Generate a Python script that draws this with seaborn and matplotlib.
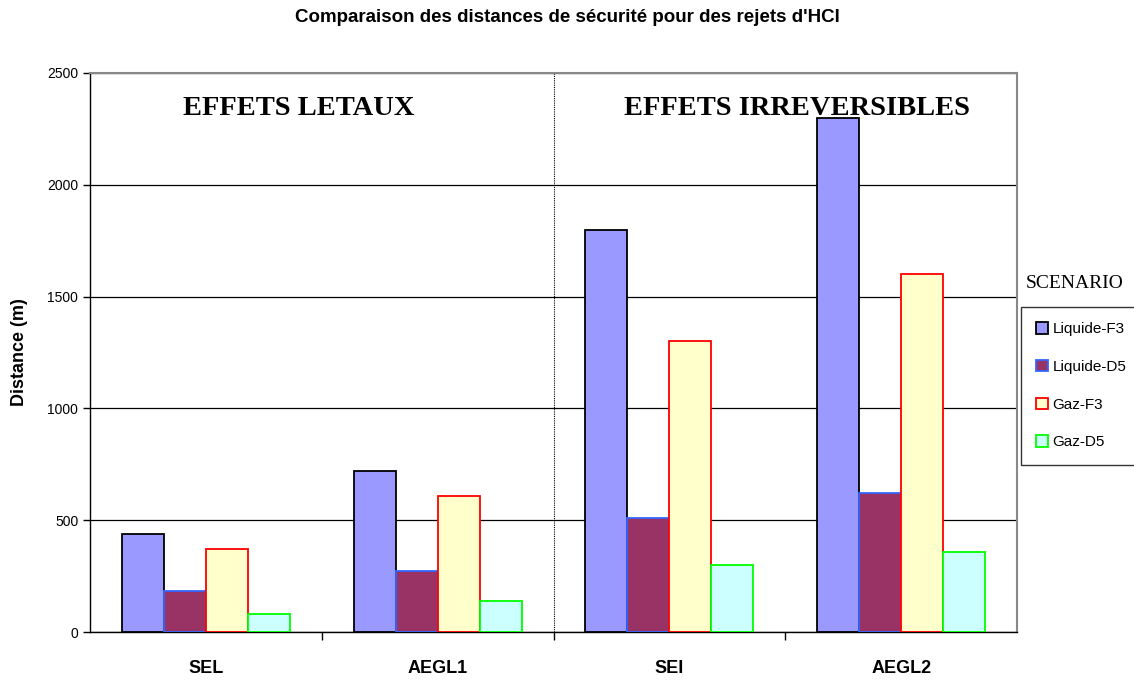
import matplotlib
matplotlib.use("Agg")
import matplotlib.pyplot as plt
import seaborn as sns
import pandas as pd
from matplotlib.patches import Patch

categories = ["SEL", "AEGL1", "SEI", "AEGL2"]
scenarios = ["Liquide-F3", "Liquide-D5", "Gaz-F3", "Gaz-D5"]
liquide_f3 = [440, 720, 1800, 2300]
liquide_d5 = [185, 275, 510, 620]
gaz_f3 = [370, 610, 1300, 1600]
gaz_d5 = [80, 140, 300, 360]
yticks = [0, 500, 1000, 1500, 2000, 2500]

face_colors = ["#9999FF", "#993366", "#FFFFCC", "#CCFFFF"]
edge_colors = ["#000000", "#3366FF", "#FF0000", "#00FF00"]

rows = []
for s, vals in zip(scenarios, [liquide_f3, liquide_d5, gaz_f3, gaz_d5]):
    for c, v in zip(categories, vals):
        rows.append({"cat": c, "scenario": s, "value": v})
df = pd.DataFrame(rows)

sns.set_theme(style="white")
plt.rcParams["font.family"] = ["Liberation Sans", "DejaVu Sans"]
plt.rcParams["text.color"] = "black"
plt.rcParams["axes.labelcolor"] = "black"
plt.rcParams["xtick.color"] = "black"
plt.rcParams["ytick.color"] = "black"

fig = plt.figure(figsize=(11.34, 6.8), dpi=100)
ax = fig.add_axes([90 / 1134, 48 / 680, 927 / 1134, 559 / 680])

sns.barplot(data=df, x="cat", y="value", hue="scenario", order=categories,
            hue_order=scenarios, palette=face_colors, width=0.725, gap=0,
            ax=ax, legend=False, saturation=1)

for cont, ec in zip(ax.containers, edge_colors):
    for p in cont.patches:
        p.set_edgecolor(ec)
        p.set_linewidth(1.3)
        p.set_zorder(3)

ax.set_ylim(0, 2500)
ax.set_xlim(-0.5, 3.5)
ax.set_yticks(yticks)
ax.set_yticklabels([str(t) for t in yticks], fontsize=10)
ax.yaxis.grid(True, color="black", linewidth=0.9)
ax.set_axisbelow(True)

ax.set_xticks([0, 1, 2, 3])
ax.set_xticklabels(categories, fontsize=13, fontweight="bold")
ax.tick_params(axis="x", length=0, pad=20)
ax.set_xticks([0.5, 1.5, 2.5], minor=True)
ax.tick_params(axis="x", which="minor", length=6, width=1, color="black", direction="out", bottom=True)
ax.tick_params(axis="y", length=5, width=1, color="black", direction="out", left=True)

ax.set_xlabel("")
ax.set_ylabel("Distance (m)", fontsize=13, fontweight="bold", labelpad=14)

for side in ["left", "bottom"]:
    ax.spines[side].set_color("black")
    ax.spines[side].set_linewidth(1.0)
for side in ["top", "right"]:
    ax.spines[side].set_color("#888888")
    ax.spines[side].set_linewidth(1.5)

ax.axvline(1.5, color="black", linestyle=(0, (1, 1)), linewidth=0.8, zorder=2)

ax.text(0.4, 2340, "EFFETS LETAUX", fontsize=20.5, fontweight="bold",
        family=["Liberation Serif", "DejaVu Serif"], ha="center", va="center")
ax.text(2.55, 2340, "EFFETS IRREVERSIBLES", fontsize=20.5, fontweight="bold",
        family=["Liberation Serif", "DejaVu Serif"], ha="center", va="center")

fig.text(567 / 1134, 1 - 17 / 680, "Comparaison des distances de sécurité pour des rejets d'HCl",
         fontsize=13.5, fontweight="bold", ha="center", va="center")

fig.text(1075 / 1134, 1 - 283 / 680, "SCENARIO", fontsize=14,
         family=["Liberation Serif", "DejaVu Serif"], ha="center", va="center")

handles = [Patch(facecolor=fc, edgecolor=ec, linewidth=1.3) for fc, ec in zip(face_colors, edge_colors)]
leg = fig.legend(handles, scenarios, loc="upper left",
                 bbox_to_anchor=(1021 / 1134, 1 - 307 / 680), fontsize=11,
                 frameon=True, fancybox=False, handlelength=0.75, handleheight=0.75,
                 handletextpad=0.3, labelspacing=1.55, borderpad=1.0, borderaxespad=0)
leg.get_frame().set_edgecolor("black")
leg.get_frame().set_linewidth(1.0)

fig.savefig("out.png", dpi=100)
